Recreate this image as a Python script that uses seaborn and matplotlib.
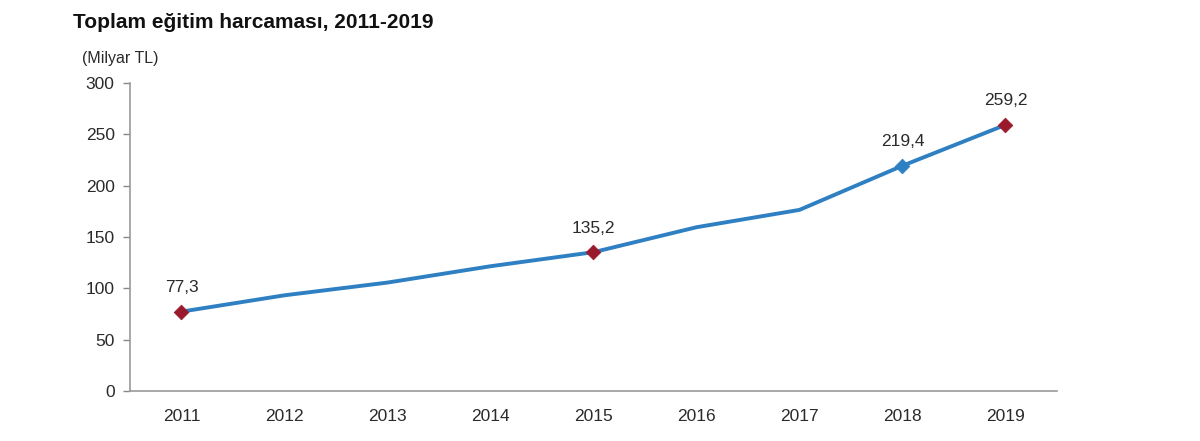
import matplotlib
matplotlib.use("Agg")
import matplotlib.pyplot as plt
import pandas as pd
import seaborn as sns

years = ["2011", "2012", "2013", "2014", "2015", "2016", "2017", "2018", "2019"]
values = [77.3, 93.2, 105.6, 121.5, 135.2, 159.5, 176.4, 219.4, 259.2]
labelled = ["2011", "2015", "2018", "2019"]
red_points = ["2011", "2015", "2019"]
blue_points = ["2018"]

df = pd.DataFrame({"year": years, "value": values})
df["pos"] = range(len(df))

sns.set_style("white")
plt.rcParams["font.family"] = ["Liberation Sans", "DejaVu Sans"]

line_col = "#2f80c2"
red_col = "#9a1a2c"
txt_col = "#2a2a2a"

fig = plt.figure(figsize=(12, 4.41), dpi=100)
ax = fig.add_axes([0.1083, 0.1134, 0.7725, 0.6984])

sns.lineplot(data=df, x="pos", y="value", ax=ax, color=line_col, linewidth=2.8)
sns.scatterplot(data=df[df["year"].isin(red_points)], x="pos", y="value", ax=ax,
                marker="D", s=55, color=red_col, edgecolor=red_col, zorder=5)
sns.scatterplot(data=df[df["year"].isin(blue_points)], x="pos", y="value", ax=ax,
                marker="D", s=55, color=line_col, edgecolor=line_col, zorder=5)

for _, r in df[df["year"].isin(labelled)].iterrows():
    ax.annotate(f"{r['value']:.1f}".replace(".", ","), (r["pos"], r["value"]),
                xytext=(0, 12), textcoords="offset points", ha="center", va="bottom",
                fontsize=12.5, color=txt_col)

ax.set_xlim(-0.5, len(years) - 0.5)
ax.set_ylim(0, 300)
ax.set_yticks(range(0, 301, 50))
ax.set_xticks(df["pos"])
ax.set_xticklabels(years)
ax.set_xticks([i - 0.5 for i in range(len(years) + 1)], minor=True)
ax.tick_params(axis="x", which="major", length=0, pad=13, labelsize=12.5, labelcolor=txt_col)
ax.tick_params(axis="x", which="minor", length=5, width=1, color="#888888", direction="out")
ax.tick_params(axis="y", which="major", length=5, width=1, color="#888888", pad=6,
               labelsize=12.5, labelcolor=txt_col, left=True)
ax.set_xlabel("")
ax.set_ylabel("")

for s in ["top", "right"]:
    ax.spines[s].set_visible(False)
for s in ["left", "bottom"]:
    ax.spines[s].set_color("#999999")
    ax.spines[s].set_linewidth(1.2)

fig.text(73 / 1200, 1 - 22 / 441, "Toplam eğitim harcaması, 2011-2019", fontsize=15,
         fontweight="bold", color="#111111", ha="left", va="center")
fig.text(82 / 1200, 1 - 58 / 441, "(Milyar TL)", fontsize=11.5, color=txt_col,
         ha="left", va="center")

fig.savefig("out.png", dpi=100)
